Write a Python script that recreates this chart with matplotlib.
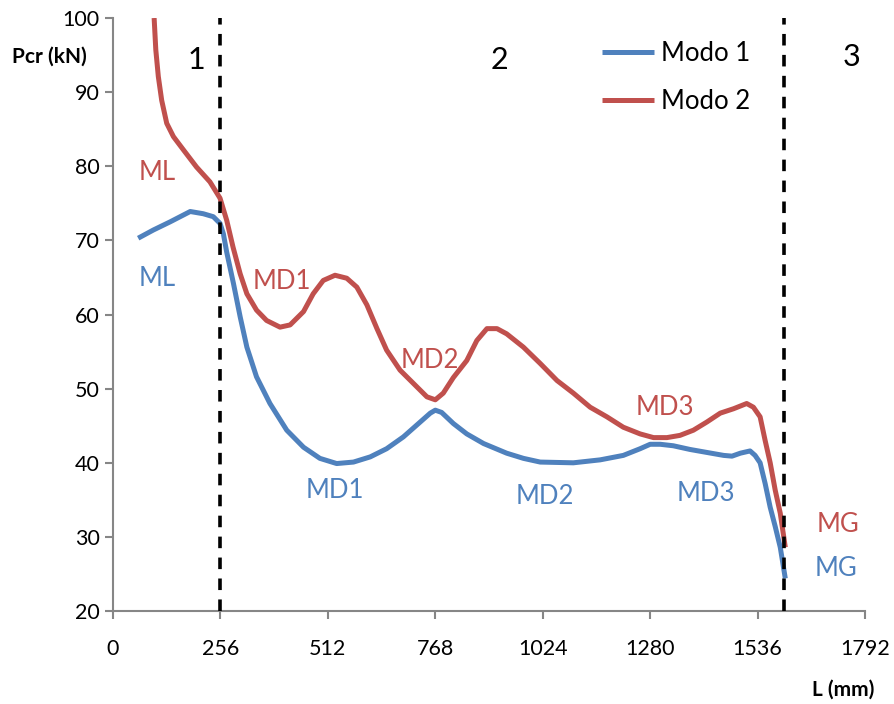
import matplotlib
matplotlib.use("Agg")
import matplotlib.pyplot as plt

# Modo 1 (blue)
L1 = [60, 96, 136, 184, 215, 239, 255, 263, 271, 287, 303, 319, 342, 374, 414,
      454, 493, 533, 573, 613, 652, 692, 732, 756, 768, 783, 811, 843, 883, 938,
      978, 1018, 1097, 1161, 1216, 1256, 1280, 1304, 1335, 1375, 1415, 1455,
      1475, 1495, 1518, 1530, 1542, 1554, 1566, 1578, 1590, 1602]
P1 = [70.3, 71.4, 72.5, 73.9, 73.6, 73.2, 72.3, 70.9, 68.4, 64.2, 59.7, 55.6,
      51.6, 48.0, 44.4, 42.1, 40.6, 39.9, 40.1, 40.8, 41.9, 43.5, 45.5, 46.7,
      47.1, 46.8, 45.3, 43.9, 42.6, 41.3, 40.6, 40.1, 40.0, 40.4, 41.0, 41.9,
      42.5, 42.5, 42.3, 41.8, 41.4, 41.0, 40.9, 41.3, 41.6, 41.0, 40.0, 37.2,
      34.0, 31.4, 28.6, 24.4]

# Modo 2 (red)
L2 = [98, 102, 108, 116, 128, 144, 168, 199, 231, 255, 271, 286, 303, 319, 342,
      366, 398, 422, 454, 477, 501, 529, 557, 581, 605, 629, 652, 684, 716, 748,
      768, 787, 811, 843, 867, 891, 915, 938, 978, 1018, 1058, 1097, 1137, 1177,
      1216, 1256, 1288, 1320, 1351, 1383, 1415, 1447, 1479, 1510, 1526, 1542,
      1554, 1566, 1578, 1590, 1602]
P2 = [100.0, 95.7, 92.1, 88.9, 85.8, 84.0, 82.2, 79.9, 77.9, 75.7, 72.7, 69.1,
      65.5, 62.8, 60.6, 59.2, 58.3, 58.6, 60.4, 62.8, 64.6, 65.3, 64.9, 63.7,
      61.3, 58.1, 55.2, 52.5, 50.7, 48.9, 48.5, 49.4, 51.5, 53.8, 56.5, 58.1,
      58.1, 57.4, 55.6, 53.4, 51.1, 49.4, 47.5, 46.2, 44.8, 43.9, 43.4, 43.4,
      43.7, 44.4, 45.5, 46.7, 47.3, 48.0, 47.5, 46.2, 43.0, 40.0, 36.3, 33.2,
      28.6]

xticks = [0, 256, 512, 768, 1024, 1280, 1536, 1792]
yticks = [20, 30, 40, 50, 60, 70, 80, 90, 100]
limits = [256, 1600]

# mode labels: (text, L, Pcr)
labels_red = [("ML", 105, 79.1), ("MD1", 403, 64.4), ("MD2", 756, 53.8),
              ("MD3", 1316, 47.5), ("MG", 1728, 31.7)]
labels_blue = [("ML", 105, 64.9), ("MD1", 529, 36.3), ("MD2", 1030, 35.4),
               ("MD3", 1413, 35.9), ("MG", 1723, 25.8)]
zones = [("1", 198, 94.3), ("2", 922, 94.3), ("3", 1761, 94.7)]

blue = "#4F81BD"
red = "#C0504D"
axis_gray = "#868686"

plt.rcParams["font.family"] = ["Lato", "DejaVu Sans"]

fig = plt.figure(figsize=(8.94, 7.04), dpi=100)
ax = fig.add_axes([0.1264, 0.132, 0.8412, 0.8424])

ax.plot(L1, P1, color=blue, lw=3.6, label="Modo 1", solid_capstyle="butt",
        solid_joinstyle="round")
ax.plot(L2, P2, color=red, lw=3.6, label="Modo 2", solid_capstyle="butt",
        solid_joinstyle="round")

for xv in limits:
    ax.axvline(xv, color="black", lw=2.6, ls=(0, (3.2, 2.6)), zorder=3)

for t, x, y in labels_red:
    ax.text(x, y, t, color=red, fontsize=18.5, ha="center", va="center")
for t, x, y in labels_blue:
    ax.text(x, y, t, color=blue, fontsize=18.5, ha="center", va="center")
for t, x, y in zones:
    ax.text(x, y, t, color="black", fontsize=22, ha="center", va="center")

ax.set_xlim(0, 1792)
ax.set_ylim(20, 100)
ax.set_xticks(xticks)
ax.set_yticks(yticks)
ax.tick_params(axis="both", labelsize=15.5, color=axis_gray, width=1.5,
               length=6, direction="out")
ax.tick_params(axis="x", pad=14)
for s in ["top", "right"]:
    ax.spines[s].set_visible(False)
for s in ["left", "bottom"]:
    ax.spines[s].set_color(axis_gray)
    ax.spines[s].set_linewidth(1.5)

fig.text(12 / 894, 1 - 57 / 704, "Pcr (kN)", fontsize=15, fontweight="bold",
         ha="left", va="center")
fig.text(874 / 894, 1 - 690 / 704, "L (mm)", fontsize=15, fontweight="bold",
         ha="right", va="center")

leg = ax.legend(loc="upper left", bbox_to_anchor=(0.62, 1.0), frameon=False,
                fontsize=18.5, handlelength=2.0, handletextpad=0.3,
                labelspacing=0.9)

fig.savefig("out.png", dpi=100)
